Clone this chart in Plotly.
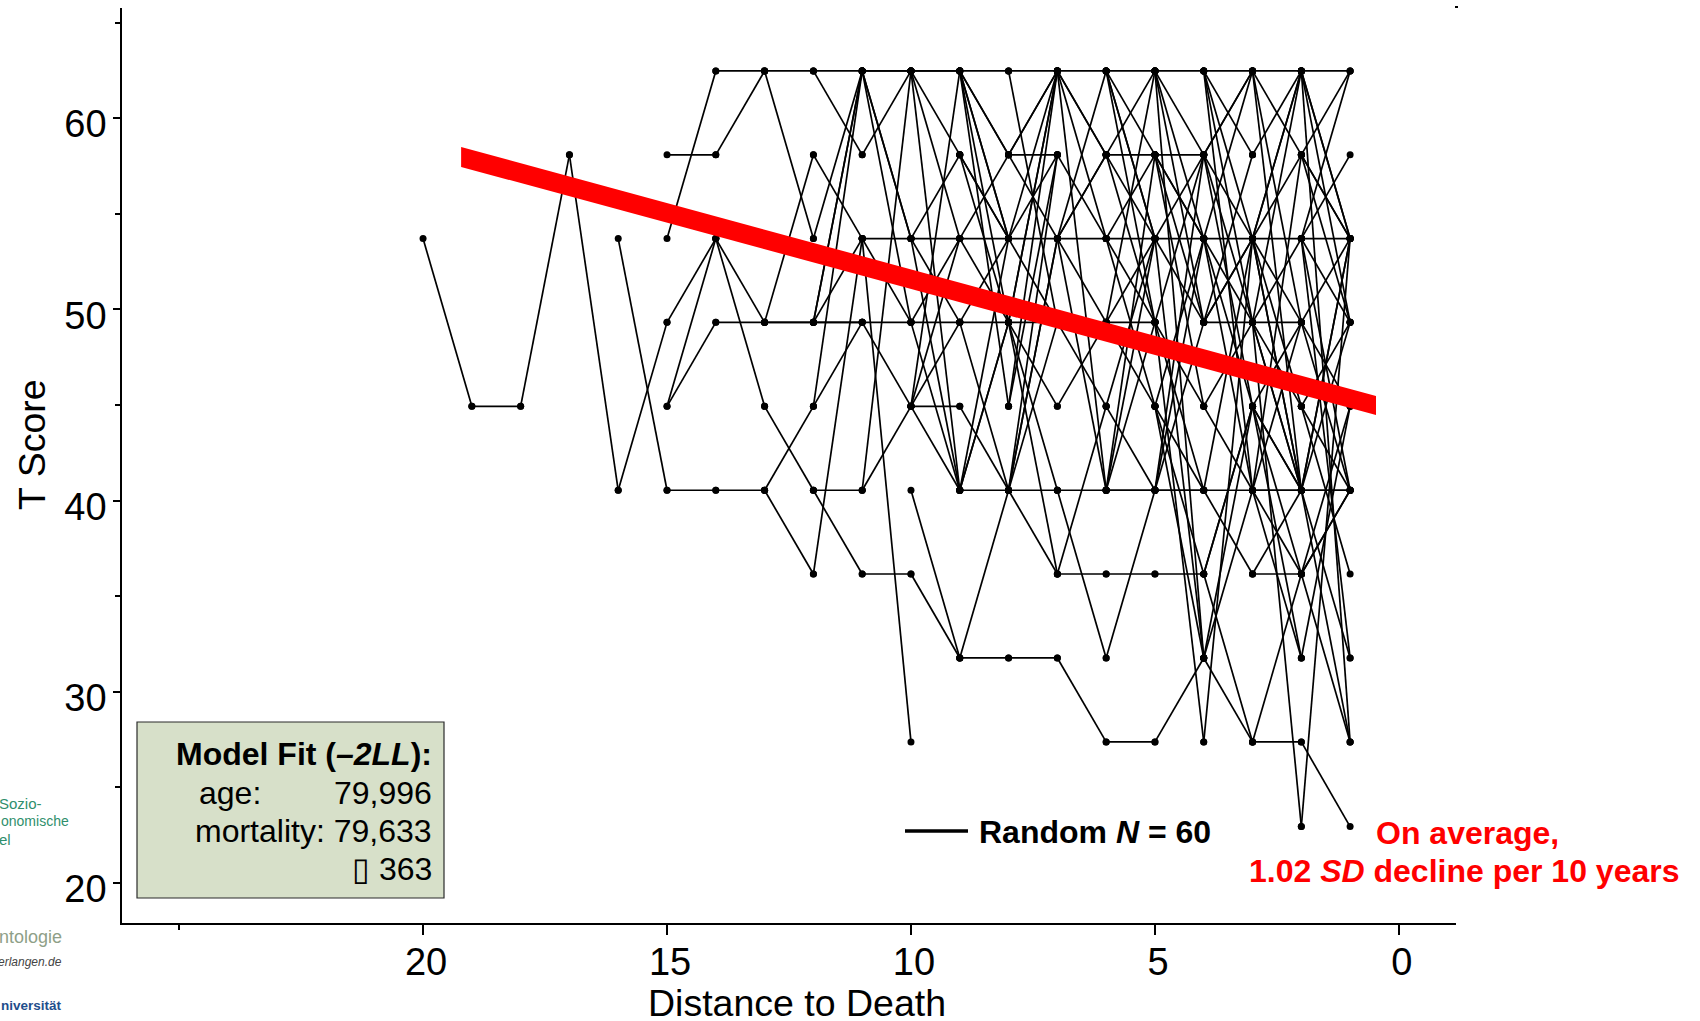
import plotly.graph_objects as go

W, H = 1700, 1021
# Response levels of the T score (level index -> T value)
t_levels = [62.47, 58.08, 53.7, 49.32, 44.93, 40.54, 36.16, 31.77, 27.38, 22.95]

# Observed transitions between neighbouring years before death: (level at d, level at d-1)
gap_20 = [(2,4)]
gap_19 = [(4,4)]
gap_18 = [(4,1)]
gap_17 = [(1,5)]
gap_16 = [(2,5),(5,3)]
gap_15 = [(1,1),(2,0),(3,2),(4,2),(4,3),(5,5)]
gap_14 = [(0,0),(1,0),(2,3),(2,4),(3,3),(5,5)]
gap_13 = [(0,0),(0,2),(3,3),(3,3),(3,1),(4,5),(5,4),(5,6)]
gap_12 = [(0,0),(0,1),(1,2),(2,0),(3,0),(3,0),(3,3),(3,2),(3,3),(4,3),(4,0),(5,5),(5,6),(6,2)]
gap_11 = [(0,0),(0,0),(0,2),(0,2),(0,3),(1,0),(2,2),(2,3),(2,8),(3,3),(3,4),(5,4),(5,0),(6,6)]
gap_10 = [(0,0),(0,0),(0,1),(0,2),(0,5),(2,2),(2,3),(2,5),(2,1),(3,3),(3,2),(3,5),(4,4),(4,5),(4,3),(4,2),(4,0),(5,7),(6,7)]
gap_9 = [(0,0),(0,1),(0,1),(0,2),(0,2),(0,3),(0,4),(1,2),(1,2),(1,3),(2,2),(2,3),(2,1),(3,3),(3,2),(3,5),(4,5),(5,5),(5,3),(5,3),(5,2),(7,7),(7,5)]
gap_8 = [(0,0),(0,3),(1,0),(1,0),(1,1),(1,2),(2,2),(2,3),(2,0),(2,1),(3,0),(3,0),(3,3),(3,4),(3,5),(3,6),(4,0),(4,1),(5,1),(5,2),(5,2),(5,3),(5,5),(5,6),(7,7)]
gap_7 = [(0,0),(0,1),(0,1),(0,2),(0,5),(1,2),(2,2),(2,0),(2,1),(2,1),(2,3),(2,5),(3,4),(4,3),(5,5),(5,7),(6,4),(6,6),(7,8)]
gap_6 = [(0,0),(0,1),(0,2),(0,2),(0,3),(1,1),(1,0),(1,2),(1,3),(2,2),(2,1),(2,3),(2,4),(3,3),(3,2),(3,4),(3,0),(4,5),(4,2),(5,5),(5,5),(5,1),(5,3),(5,2),(6,6),(7,5),(8,8)]
gap_5 = [(0,0),(0,1),(0,2),(0,3),(0,7),(1,1),(1,2),(1,2),(1,3),(1,4),(2,2),(2,3),(2,1),(2,7),(3,1),(3,4),(3,8),(3,5),(4,5),(4,2),(4,6),(4,7),(5,5),(5,5),(5,3),(5,2),(5,1),(6,6),(8,7)]
gap_4 = [(0,0),(0,1),(0,2),(0,3),(0,5),(1,0),(1,0),(1,2),(1,3),(1,4),(2,2),(2,0),(2,3),(2,4),(2,5),(3,3),(3,2),(3,2),(3,1),(4,3),(4,5),(5,5),(5,6),(5,2),(6,8),(6,4),(6,4),(7,5),(7,4),(7,8),(8,2)]
gap_3 = [(0,0),(0,1),(0,3),(0,5),(1,0),(2,2),(2,0),(2,0),(2,1),(2,3),(2,4),(2,5),(2,5),(3,3),(3,2),(3,0),(3,4),(3,5),(3,5),(3,9),(4,5),(4,5),(4,6),(4,7),(4,3),(5,5),(5,5),(5,6),(5,7),(5,1),(5,3),(6,6),(6,5),(8,8),(8,6)]
gap_2 = [(0,0),(0,2),(0,2),(0,3),(0,8),(1,0),(1,2),(1,2),(1,3),(2,2),(2,0),(2,1),(2,3),(2,5),(2,7),(3,2),(3,4),(3,5),(4,5),(4,6),(4,3),(5,5),(5,5),(5,2),(5,2),(5,3),(5,7),(5,8),(6,5),(6,5),(6,8),(6,4),(7,4),(8,9),(9,2)]

gaps = {20: gap_20, 19: gap_19, 18: gap_18, 17: gap_17, 16: gap_16, 15: gap_15, 14: gap_14,
        13: gap_13, 12: gap_12, 11: gap_11, 10: gap_10, 9: gap_9, 8: gap_8, 7: gap_7,
        6: gap_6, 5: gap_5, 4: gap_4, 3: gap_3, 2: gap_2}

# Average trajectory band (thick red line)
mean_x = [19.22, 0.47, 0.47, 19.22, 19.22]
mean_y = [58.49, 45.47, 44.48, 57.45, 58.49]

x_major = [20, 15, 10, 5, 0]
x_minor = [25]
y_major = [20, 30, 40, 50, 60]
y_minor = [25, 35, 45, 55, 65]

FONT = "Liberation Sans"
fig = go.Figure()
for d, edges in gaps.items():
    xs, ys = [], []
    for a, b in edges:
        xs += [d, d - 1, None]
        ys += [t_levels[a], t_levels[b], None]
    fig.add_trace(go.Scatter(x=xs, y=ys, mode="lines+markers", showlegend=False,
                             line=dict(color="black", width=1.7),
                             marker=dict(color="black", size=7, symbol="circle", line=dict(width=0))))
fig.add_trace(go.Scatter(x=mean_x, y=mean_y, mode="lines", fill="toself", fillcolor="#ff0000",
                         line=dict(width=0, color="#ff0000"), showlegend=False))

px = lambda v: v / W
py = lambda v: 1 - v / H
notes = []
def note(text, x, y, size, color="black", anchor="right"):
    notes.append(dict(text=text, x=px(x), y=py(y), xref="paper", yref="paper", xanchor=anchor,
                      yanchor="middle", showarrow=False, align=anchor,
                      font=dict(family=FONT, size=size, color=color)))

note("<b>Model Fit (<i>–2LL</i>):</b>", 434, 754, 32)
note("age:", 263, 793, 32)
note("79,996", 434, 793, 32)
note("mortality: 79,633", 434, 831, 32)
note("▯ 363", 434, 869, 32)
note("<b>Random <i>N</i> = 60</b>", 977, 832, 32, anchor="left")
note("<b>On average,</b>", 1374, 833, 32, "#ff0000", "left")
note("<b>1.02 <i>SD</i> decline per 10 years</b>", 1681, 871, 32, "#ff0000")
note("Distance to Death", 797, 1003, 37.5, anchor="center")
notes.append(dict(text="T Score", x=px(32), y=py(445), xref="paper", yref="paper", textangle=-90,
                  xanchor="center", yanchor="middle", showarrow=False,
                  font=dict(family=FONT, size=37.5, color="black")))
# cropped slide logos at the left edge
note("Sozio-", 44, 803, 15, "#2f8f6c")
note("onomische", 71, 821, 14, "#2f8f6c")
note("el", 13, 839, 15, "#2f8f6c")
note("ntologie", 64, 937, 18, "#8f9f88")
note("<i>erlangen.de</i>", 64, 962, 12, "#444444")
note("<b>niversität</b>", 64, 1005, 13.5, "#1f4e8c")

shapes = [
    dict(type="rect", xref="paper", yref="paper", x0=px(137), x1=px(444), y0=py(722), y1=py(898),
         fillcolor="#d7e0c9", line=dict(color="#2b2b2b", width=1.2), layer="above"),
    dict(type="line", xref="paper", yref="paper", x0=px(905), x1=px(968), y0=py(831), y1=py(831),
         line=dict(color="black", width=3.5)),
    dict(type="rect", xref="paper", yref="paper", x0=px(1455), x1=px(1458), y0=py(6), y1=py(8),
         fillcolor="black", line=dict(width=0)),
]

axis_common = dict(showgrid=False, zeroline=False, showline=True, linecolor="black", linewidth=1.5,
                   tickcolor="black", tickwidth=1.5, ticks="outside",
                   tickfont=dict(family=FONT, size=38, color="black"))
fig.update_layout(
    width=W, height=H, margin=dict(l=0, r=0, t=0, b=0), paper_bgcolor="white", plot_bgcolor="white",
    showlegend=False, shapes=shapes, annotations=notes,
    xaxis=dict(domain=[122 / W, 1456 / W], range=[26.17, -1.17], tickmode="array", tickvals=x_major,
               ticklen=10, ticklabelshift=-3, ticklabelstandoff=-5,
               minor=dict(tickmode="array", tickvals=x_minor, ticks="outside", ticklen=5,
                          tickcolor="black", tickwidth=1.5, showgrid=False), **axis_common),
    yaxis=dict(domain=[1 - 923 / H, 1 - 8 / H], range=[17.91, 65.76], tickmode="array", tickvals=y_major,
               ticklen=7, ticklabelshift=6, ticklabelstandoff=-1,
               minor=dict(tickmode="array", tickvals=y_minor, ticks="outside", ticklen=5,
                          tickcolor="black", tickwidth=1.5, showgrid=False), **axis_common),
)
fig.write_html("out.html", config={"displayModeBar": False},
               post_script="document.body.style.margin='0';document.body.style.overflow='hidden';window.dispatchEvent(new Event('resize'));")
